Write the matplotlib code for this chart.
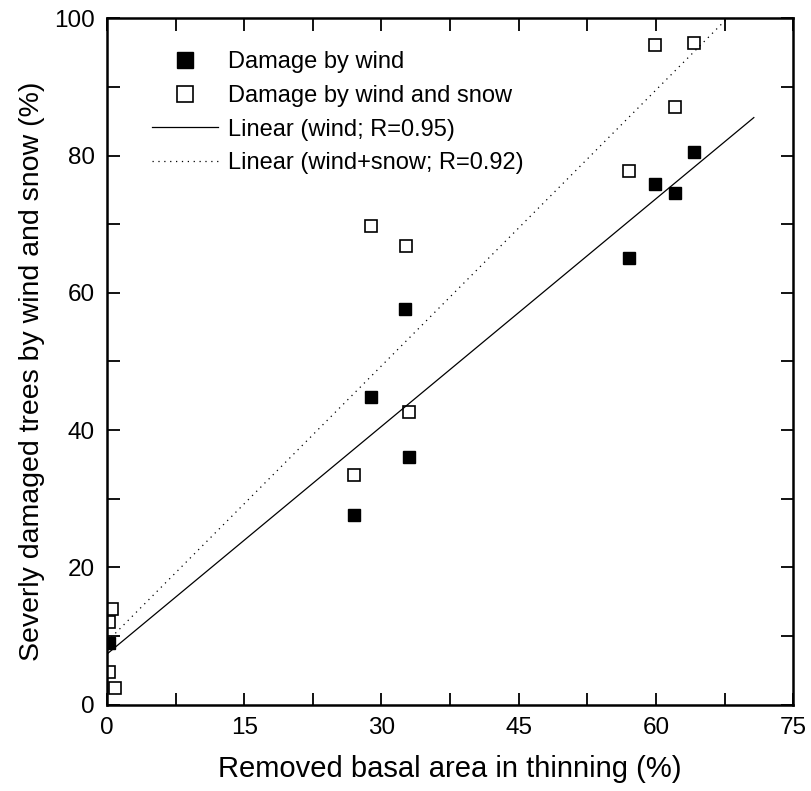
import numpy as np
import matplotlib
matplotlib.use("Agg")
import matplotlib.pyplot as plt
from matplotlib.ticker import MultipleLocator

plt.rcParams['font.family'] = ['Liberation Sans', 'DejaVu Sans']

# Данные
wind_x = [0.2, 27.0, 28.9, 32.6, 33.0, 57.1, 59.9, 62.1, 64.2]
wind_y = [9.0, 27.6, 44.9, 57.7, 36.1, 65.1, 75.9, 74.6, 80.5]

snow_x = [0.5, 0.2, 0.2, 0.9, 27.0, 28.9, 32.7, 33.0, 57.1, 59.9, 62.1, 64.2]
snow_y = [14.0, 12.0, 4.8, 2.5, 33.5, 69.8, 66.8, 42.7, 77.8, 96.1, 87.0, 96.4]

# Линейные аппроксимации (как на рисунке)
fit_wind = (1.105, 7.4)
fit_snow = (1.339, 9.2)
fit_x = [0.0, 70.7]

fig = plt.figure(figsize=(8.11, 7.91), dpi=100)
ax = fig.add_axes([0.132, 0.109, 0.846, 0.868])

ax.plot(wind_x, wind_y, linestyle='none', marker='s', markersize=8,
        markerfacecolor='black', markeredgecolor='black', label='Damage by wind')
ax.plot(snow_x, snow_y, linestyle='none', marker='s', markersize=8,
        markerfacecolor='white', markeredgecolor='black', markeredgewidth=1.2,
        label='Damage by wind and snow')

xs = np.array(fit_x)
ax.plot(xs, fit_wind[0] * xs + fit_wind[1], color='black', linewidth=0.9,
        label='Linear (wind; R=0.95)')
ax.plot(xs, fit_snow[0] * xs + fit_snow[1], color='black', linewidth=0.9,
        linestyle=(0, (1, 3.7)), label='Linear (wind+snow; R=0.92)')

ax.set_xlim(0, 75)
ax.set_ylim(0, 100)
ax.xaxis.set_major_locator(MultipleLocator(15))
ax.xaxis.set_minor_locator(MultipleLocator(7.5))
ax.yaxis.set_major_locator(MultipleLocator(20))
ax.yaxis.set_minor_locator(MultipleLocator(10))
ax.tick_params(which='both', direction='in', top=True, right=True,
               length=9, width=1.3, labelsize=17.5, pad=9)

for sp in ax.spines.values():
    sp.set_linewidth(1.8)

ax.set_xlabel('Removed basal area in thinning (%)', fontsize=21, labelpad=11)
ax.set_ylabel('Severly damaged trees by wind and snow (%)', fontsize=20.5)
ax.yaxis.set_label_coords(-0.09, 0.485)

ax.legend(loc='upper left', bbox_to_anchor=(0.052, 0.966), frameon=False,
          fontsize=17, markerscale=1.4, handlelength=2.8, handletextpad=0.4,
          labelspacing=0.5, borderaxespad=0)

plt.savefig('out.png', dpi=100)
